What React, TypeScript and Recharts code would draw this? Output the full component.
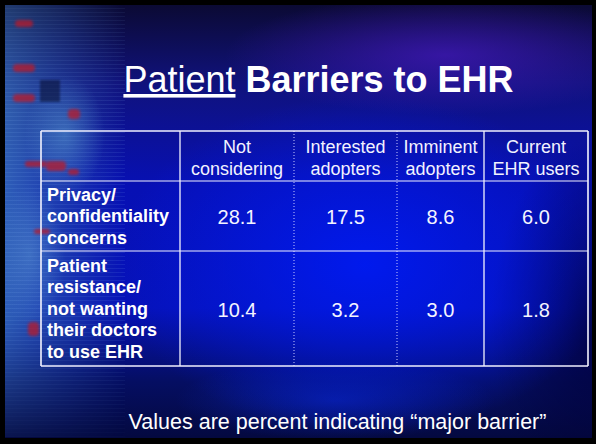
import React from 'react';
import { ScatterChart, Scatter, XAxis, YAxis, ReferenceLine } from 'recharts';

// Table content
const headers = [
  ['Not', 'considering'],
  ['Interested', 'adopters'],
  ['Imminent', 'adopters'],
  ['Current', 'EHR users'],
];
const barriers = [
  ['Privacy/', 'confidentiality', 'concerns'],
  ['Patient', 'resistance/', 'not wanting', 'their doctors', 'to use EHR'],
];
const privacyValues = [28.1, 17.5, 8.6, 6.0];
const resistanceValues = [10.4, 3.2, 3.0, 1.8];

// Table layout (axis units = px inside the plot area)
const colEdges = [0, 139, 253, 356, 443, 547];
const rowEdges = [0, 50, 120, 235];
const mid = (edges: number[], i: number) => (edges[i] + edges[i + 1]) / 2;

const FONT = '"Liberation Sans", Arial, sans-serif';

const headerData = headers.map((lines, c) => ({ x: mid(colEdges, c + 1), y: mid(rowEdges, 0), lines }));
const labelData = barriers.map((lines, r) => ({ x: colEdges[0] + 6, y: mid(rowEdges, r + 1), lines }));
const cellData = [privacyValues, resistanceValues].flatMap((vals, r) =>
  vals.map((v, c) => ({ x: mid(colEdges, c + 1), y: mid(rowEdges, r + 1), v }))
);

const HeaderShape = (props: any) => {
  const { cx, cy, payload } = props;
  return (
    <text textAnchor="middle" fontFamily={FONT} fontSize={18} fill="#f2f2ff">
      {payload.lines.map((t: string, i: number) => (
        <tspan key={i} x={cx} y={cy + (i - 0.5) * 22 + 8}>{t}</tspan>
      ))}
    </text>
  );
};

const LabelShape = (props: any) => {
  const { cx, cy, payload } = props;
  const n = payload.lines.length;
  return (
    <text textAnchor="start" fontFamily={FONT} fontSize={18} fontWeight="bold" fill="#ffffff">
      {payload.lines.map((t: string, i: number) => (
        <tspan key={i} x={cx} y={cy + (i - (n - 1) / 2) * 21.5 + 6}>{t}</tspan>
      ))}
    </text>
  );
};

const ValueShape = (props: any) => {
  const { cx, cy, payload } = props;
  return (
    <text x={cx} y={cy + 8} textAnchor="middle" fontFamily={FONT} fontSize={20} fill="#f4f4ff">
      {payload.v.toFixed(1)}
    </text>
  );
};

// decorative chips on the circuit board
const reds = [
  [15, 20, 18, 7], [13, 64, 22, 8], [13, 94, 22, 8], [25, 161, 22, 6], [46, 161, 20, 10],
  [68, 109, 12, 10], [34, 229, 16, 5], [28, 322, 11, 14], [68, 169, 11, 6],
];

const App = () => {
  return (
    <div style={{ position: 'fixed', left: 0, top: 0, width: 596, height: 444, background: '#000', overflow: 'hidden' }}>
      <div
        style={{
          position: 'absolute', left: 5, top: 5, right: 4, bottom: 6,
          background: [
            'radial-gradient(ellipse 250px 170px at 360px 260px, rgba(0,26,240,0.95) 0%, rgba(0,20,225,0) 100%)',
            'radial-gradient(ellipse 220px 60px at 440px 50px, rgba(70,25,190,0.7) 0%, rgba(60,20,170,0) 100%)',
            'radial-gradient(ellipse 110px 190px at 595px 320px, rgba(0,0,55,0.85) 0%, rgba(0,0,55,0) 100%)',
            'radial-gradient(ellipse 160px 40px at 330px 395px, rgba(10,40,200,0.6) 0%, rgba(10,40,200,0) 100%)',
            'linear-gradient(180deg, #0b0a34 0%, #10127c 18%, #0710b4 42%, #0612b8 70%, #050e62 87%, #040940 100%)',
          ].join(','),
        }}
      />
      {/* circuit board strip on the left */}
      <div
        style={{
          position: 'absolute', left: 5, top: 5, width: 120, height: 432,
          background: [
            'repeating-linear-gradient(0deg, rgba(150,200,255,0.10) 0px, rgba(150,200,255,0.10) 1px, rgba(0,0,0,0) 1px, rgba(0,0,0,0) 4px)',
            'radial-gradient(ellipse 40px 60px at 60px 130px, rgba(90,160,210,0.5) 0%, rgba(90,160,210,0) 100%)',
            'radial-gradient(ellipse 35px 70px at 25px 250px, rgba(90,150,210,0.45) 0%, rgba(90,150,210,0) 100%)',
            'linear-gradient(90deg, rgba(60,120,185,0.75) 0%, rgba(45,90,170,0.5) 50%, rgba(20,40,150,0) 100%)',
          ].join(','),
          WebkitMaskImage: 'linear-gradient(180deg, rgba(0,0,0,0.6) 0%, #000 25%, #000 72%, rgba(0,0,0,0.15) 100%)',
          maskImage: 'linear-gradient(180deg, rgba(0,0,0,0.6) 0%, #000 25%, #000 72%, rgba(0,0,0,0.15) 100%)',
        }}
      />
      <div style={{ position: 'absolute', left: 40, top: 80, width: 20, height: 22, background: '#0a1238', opacity: 0.6, filter: 'blur(1px)' }} />
      {reds.map(([x, y, w, h], i) => (
        <div
          key={i}
          style={{ position: 'absolute', left: x, top: y, width: w, height: h, background: '#b81a2a', borderRadius: 4, filter: 'blur(1.5px)', opacity: 0.75 }}
        />
      ))}

      <div style={{ position: 'absolute', left: 0, top: 0 }}>
        <ScatterChart width={596} height={444} margin={{ top: 131, left: 41, right: 8, bottom: 78 }}>
          <XAxis type="number" dataKey="x" domain={[0, 547]} hide allowDataOverflow />
          <YAxis type="number" dataKey="y" domain={[0, 235]} reversed hide allowDataOverflow />
          {colEdges.map((e, i) => (
            <ReferenceLine
              key={`c${i}`}
              x={e}
              stroke={i === 2 || i === 3 ? '#c8c8ff' : '#f4f4ff'}
              strokeWidth={i === 0 || i === colEdges.length - 1 ? 1.6 : i === 2 || i === 3 ? 1 : 1.3}
              strokeDasharray={i === 2 || i === 3 ? '1 2' : undefined}
            />
          ))}
          {rowEdges.map((e, i) => (
            <ReferenceLine
              key={`r${i}`}
              y={e}
              stroke="#f0f0ff"
              strokeWidth={i === 0 || i === rowEdges.length - 1 ? 1.6 : 1.1}
            />
          ))}
          <Scatter data={headerData} shape={HeaderShape} isAnimationActive={false} />
          <Scatter data={labelData} shape={LabelShape} isAnimationActive={false} />
          <Scatter data={cellData} shape={ValueShape} isAnimationActive={false} />
        </ScatterChart>
      </div>

      <svg width={596} height={444} style={{ position: 'absolute', left: 0, top: 0 }}>
        <text x={318.5} y={92} textAnchor="middle" fontFamily={FONT} fontSize={36} fill="#ffffff">
          <tspan style={{ textDecoration: 'underline' }}>Patient</tspan>
          {' '}
          <tspan fontWeight="bold">Barriers to EHR</tspan>
        </text>
        <text x={337.5} y={429} textAnchor="middle" fontFamily={FONT} fontSize={21.5} fill="#ffffff">
          Values are percent indicating “major barrier”
        </text>
      </svg>
    </div>
  );
};

export default App;
